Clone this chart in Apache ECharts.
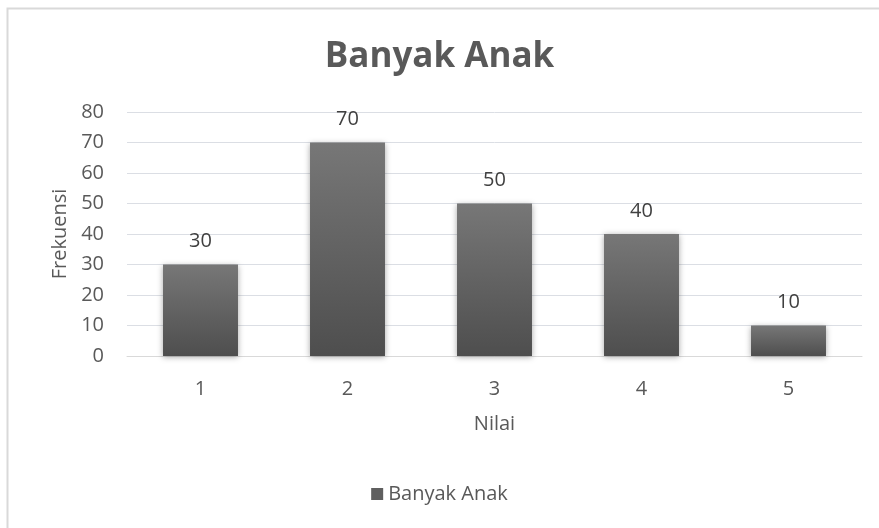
<!DOCTYPE html>
<html><head><meta charset="utf-8">
<script src="https://cdn.jsdelivr.net/npm/echarts@6/dist/echarts.min.js"></script>
<style>html,body{margin:0;padding:0;background:#fff}#c{width:879px;height:528px}</style>
</head><body><div id="c"></div>
<script>
const categories = ['1','2','3','4','5'];
const values = [30,70,50,40,10];
const seriesName = 'Banyak Anak';
const chartTitle = 'Banyak Anak';
const xName = 'Nilai';
const yName = 'Frekuensi';
const FONT = '"Open Sans", sans-serif';
const chart = echarts.init(document.getElementById('c'));
const barColor = new echarts.graphic.LinearGradient(0,0,0,1,[{offset:0,color:'#777777'},{offset:1,color:'#4e4e4e'}]);
chart.setOption({
  animation:false,
  backgroundColor:'#fff',
  graphic:[{type:'rect',left:5,top:6,shape:{width:900,height:560},style:{fill:'none',stroke:'#d9d9d9',lineWidth:2},silent:true}],
  title:{text:chartTitle,left:'center',top:35,textStyle:{fontFamily:FONT,fontSize:35,fontWeight:'bold',color:'#595959'}},
  grid:{left:127,right:17,top:112,bottom:172,containLabel:false},
  legend:{top:484,left:'center',padding:0,itemWidth:12,itemHeight:12,itemGap:6,icon:'rect',textStyle:{fontFamily:FONT,fontSize:20,color:'#595959'},data:[{name:seriesName,itemStyle:{color:'#5f5f5f'}}]},
  xAxis:{type:'category',data:categories,name:xName,nameLocation:'middle',nameGap:58,
    nameTextStyle:{fontFamily:FONT,fontSize:20,color:'#595959'},
    axisLine:{show:true,lineStyle:{color:'#d9d9d9',width:1}},axisTick:{show:false},
    axisLabel:{fontFamily:FONT,fontSize:20,color:'#595959',margin:23}},
  yAxis:{type:'value',min:0,max:80,interval:10,name:yName,nameLocation:'middle',nameGap:54,
    nameTextStyle:{fontFamily:FONT,fontSize:20,color:'#595959'},
    axisLine:{show:false},axisTick:{show:false},
    axisLabel:{fontFamily:FONT,fontSize:20,color:'#595959',margin:23}},
  series:[{name:seriesName,type:'bar',data:values,barWidth:'51%',
    itemStyle:{color:barColor,shadowColor:'rgba(0,0,0,0.35)',shadowBlur:6,shadowOffsetX:0,shadowOffsetY:1},
    label:{show:true,position:'top',distance:13,fontFamily:FONT,fontSize:20,color:'#404040'}}]
});
</script></body></html>
